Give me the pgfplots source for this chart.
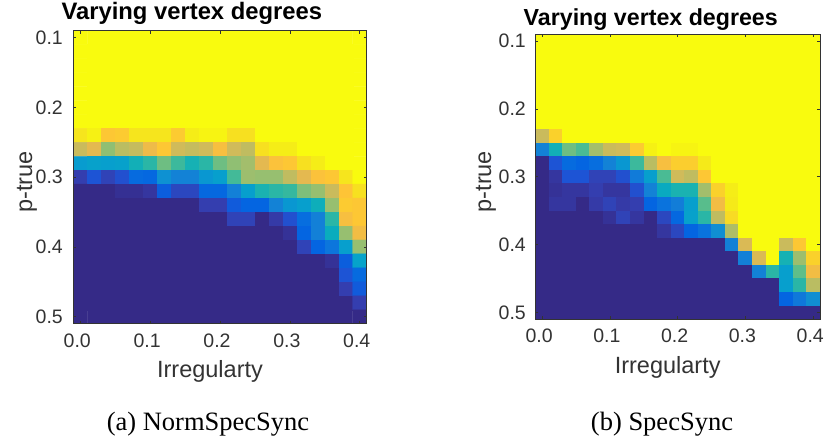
\documentclass[border=0pt]{standalone}
\usepackage{fontspec}
\setmainfont{Liberation Sans}
\newfontfamily\capfont{Liberation Serif}
\usepackage{pgfplots}
\pgfplotsset{compat=1.18}
\definecolor{axgray}{gray}{0.2}
\pgfplotsset{
 colormap={parula}{
  rgb=(0.2081,0.1663,0.5292) rgb=(0.2081,0.2386,0.6771) rgb=(0.1253,0.3242,0.8303) rgb=(0.0117,0.3875,0.8820)
  rgb=(0.0329,0.4430,0.8720) rgb=(0.0723,0.4887,0.8467) rgb=(0.0749,0.5375,0.8263) rgb=(0.0343,0.5966,0.8199)
  rgb=(0.0231,0.6418,0.7913) rgb=(0.0384,0.6743,0.7436) rgb=(0.1133,0.7015,0.6859) rgb=(0.2178,0.7250,0.6193)
  rgb=(0.3482,0.7424,0.5473) rgb=(0.4871,0.7491,0.4840) rgb=(0.6099,0.7473,0.4337) rgb=(0.7184,0.7411,0.3905)
  rgb=(0.8185,0.7327,0.3498) rgb=(0.9139,0.7258,0.3063) rgb=(0.9990,0.7653,0.2164) rgb=(0.9789,0.8271,0.1633)
  rgb=(0.9598,0.9218,0.0948) rgb=(0.9763,0.9831,0.0538)},
 hm/.style={
  scale only axis, y dir=reverse,
  xmin=-0.01,xmax=0.41,ymin=0.09,ymax=0.51,
  xtick={0,0.1,0.2,0.3,0.4}, ytick={0.1,0.2,0.3,0.4,0.5},
  point meta min=0, point meta max=1,
  /pgf/number format/assume math mode=true,
  /pgf/number format/fixed,/pgf/number format/fixed zerofill,/pgf/number format/precision=1,
  tick align=inside, tick pos=both, major tick length=3pt,
  axis line style={axgray,line width=0.8pt}, tick style={axgray,line width=0.7pt},
  ticklabel style={font=\fontsize{19.5}{21}\selectfont, text=axgray},
  xticklabel style={anchor=base, xshift=-3pt, yshift=-23.5pt},
  label style={font=\fontsize{23.5}{25}\selectfont, text=axgray},
  xlabel style={at={(axis description cs:0.5,0)}, anchor=base, xshift=-10pt, yshift=-54pt},
  axis on top,
  xlabel={Irregularty}, ylabel={p-true},
  title={Varying vertex degrees},
 },
 hmdata/.style={matrix plot*, mesh/cols=21, point meta=explicit, shader=flat corner, draw=none},
}
\begin{document}
\begin{tikzpicture}
\path[use as bounding box] (0,0) rectangle (825pt,437pt);
\begin{axis}[hm, at={(73.3pt,113.3pt)}, anchor=south west, width=293.4pt, height=293pt,
  yticklabel style={xshift=-7pt},
  ylabel style={at={(axis description cs:-0.14,0.483)}, anchor=base},
  title style={font=\fontsize{23.8}{25}\selectfont\bfseries, at={(axis description cs:0.404,1)}, anchor=base, yshift=5.7pt}]
\addplot[hmdata] table[row sep=crcr, header=false, x expr={0.02*mod(\coordindex,21)}, y expr={0.1+0.02*floor((\coordindex+0.5)/21)}, meta index=0] {
1\\1\\1\\1\\1\\1\\1\\1\\1\\1\\1\\1\\1\\1\\1\\1\\1\\1\\1\\1\\1\\
1\\1\\1\\1\\1\\1\\1\\1\\1\\1\\1\\1\\1\\1\\1\\1\\1\\1\\1\\1\\1\\
1\\1\\1\\1\\1\\1\\1\\1\\1\\1\\1\\1\\1\\1\\1\\1\\1\\1\\1\\1\\1\\
1\\1\\1\\1\\1\\1\\1\\1\\1\\1\\1\\1\\1\\1\\1\\1\\1\\1\\1\\1\\1\\
1\\1\\1\\1\\1\\1\\1\\1\\1\\1\\1\\1\\1\\1\\1\\1\\1\\1\\1\\1\\1\\
1\\1\\1\\1\\1\\1\\1\\1\\1\\1\\1\\1\\1\\1\\1\\1\\1\\1\\1\\1\\1\\
1\\1\\1\\1\\1\\1\\1\\1\\1\\1\\1\\1\\1\\1\\1\\1\\1\\1\\1\\1\\1\\
.94\\.97\\.87\\.88\\.94\\.94\\.94\\.88\\.96\\.98\\.98\\.93\\.93\\1\\1\\1\\1\\1\\1\\1\\1\\
.75\\.8\\.65\\.72\\.74\\.82\\.87\\.76\\.74\\.76\\.84\\.76\\.73\\.93\\.96\\.96\\1\\1\\1\\1\\1\\
.35\\.37\\.36\\.37\\.45\\.5\\.6\\.53\\.46\\.5\\.6\\.65\\.68\\.8\\.85\\.87\\.93\\.96\\1\\1\\1\\
.05\\.1\\.06\\.09\\.17\\.16\\.31\\.26\\.26\\.33\\.36\\.54\\.67\\.66\\.66\\.73\\.8\\.85\\.87\\.94\\1\\
0\\0\\0\\.015\\.015\\.03\\.13\\.07\\.07\\.16\\.16\\.25\\.36\\.47\\.5\\.52\\.62\\.66\\.75\\.86\\.93\\
0\\0\\0\\0\\0\\0\\0\\0\\0\\.05\\.05\\.12\\.15\\.15\\.26\\.33\\.36\\.44\\.66\\.88\\.87\\
0\\0\\0\\0\\0\\0\\0\\0\\0\\0\\0\\.06\\.06\\0\\.04\\.09\\.18\\.25\\.5\\.84\\.87\\
0\\0\\0\\0\\0\\0\\0\\0\\0\\0\\0\\0\\0\\0\\0\\.02\\.15\\.25\\.43\\.66\\.83\\
0\\0\\0\\0\\0\\0\\0\\0\\0\\0\\0\\0\\0\\0\\0\\0\\.06\\.15\\.21\\.36\\.66\\
0\\0\\0\\0\\0\\0\\0\\0\\0\\0\\0\\0\\0\\0\\0\\0\\0\\0\\.02\\.13\\.38\\
0\\0\\0\\0\\0\\0\\0\\0\\0\\0\\0\\0\\0\\0\\0\\0\\0\\0\\0\\.1\\.17\\
0\\0\\0\\0\\0\\0\\0\\0\\0\\0\\0\\0\\0\\0\\0\\0\\0\\0\\0\\.05\\.12\\
0\\0\\0\\0\\0\\0\\0\\0\\0\\0\\0\\0\\0\\0\\0\\0\\0\\0\\0\\0\\.05\\
0\\0\\0\\0\\0\\0\\0\\0\\0\\0\\0\\0\\0\\0\\0\\0\\0\\0\\0\\0\\0\\
};
\end{axis}
\begin{axis}[hm, at={(535.3pt,117.7pt)}, anchor=south west, width=284.7pt, height=285pt,
  yticklabel style={xshift=-6pt},
  ylabel style={at={(axis description cs:-0.155,0.483)}, anchor=base},
  title style={font=\fontsize{23.2}{25}\selectfont\bfseries, at={(axis description cs:0.4056,1)}, anchor=base, yshift=2.7pt}]
\addplot[hmdata] table[row sep=crcr, header=false, x expr={0.02*mod(\coordindex,21)}, y expr={0.1+0.02*floor((\coordindex+0.5)/21)}, meta index=0] {
1\\1\\1\\1\\1\\1\\1\\1\\1\\1\\1\\1\\1\\1\\1\\1\\1\\1\\1\\1\\1\\
1\\1\\1\\1\\1\\1\\1\\1\\1\\1\\1\\1\\1\\1\\1\\1\\1\\1\\1\\1\\1\\
1\\1\\1\\1\\1\\1\\1\\1\\1\\1\\1\\1\\1\\1\\1\\1\\1\\1\\1\\1\\1\\
1\\1\\1\\1\\1\\1\\1\\1\\1\\1\\1\\1\\1\\1\\1\\1\\1\\1\\1\\1\\1\\
1\\1\\1\\1\\1\\1\\1\\1\\1\\1\\1\\1\\1\\1\\1\\1\\1\\1\\1\\1\\1\\
1\\1\\1\\1\\1\\1\\1\\1\\1\\1\\1\\1\\1\\1\\1\\1\\1\\1\\1\\1\\1\\
1\\1\\1\\1\\1\\1\\1\\1\\1\\1\\1\\1\\1\\1\\1\\1\\1\\1\\1\\1\\1\\
.75\\.9\\1\\1\\1\\1\\1\\1\\1\\1\\1\\1\\1\\1\\1\\1\\1\\1\\1\\1\\1\\
.26\\.45\\.6\\.55\\.68\\.75\\.76\\.88\\.97\\1\\.98\\.98\\1\\1\\1\\1\\1\\1\\1\\1\\1\\
0\\.1\\.17\\.15\\.18\\.26\\.33\\.53\\.72\\.84\\.89\\.89\\.95\\1\\1\\1\\1\\1\\1\\1\\1\\
0\\.03\\.1\\.1\\.06\\.06\\.09\\.23\\.36\\.55\\.76\\.73\\.87\\1\\1\\1\\1\\1\\1\\1\\1\\
0\\.02\\.03\\.03\\.05\\.03\\.03\\.09\\.26\\.42\\.47\\.47\\.68\\.9\\.96\\1\\1\\1\\1\\1\\1\\
0\\.03\\.03\\0\\.04\\.06\\.04\\.05\\.15\\.2\\.24\\.36\\.57\\.83\\.95\\1\\1\\1\\1\\1\\1\\
0\\0\\0\\0\\0\\.02\\.06\\.03\\0\\.07\\.16\\.37\\.5\\.73\\.92\\1\\1\\1\\1\\1\\1\\
0\\0\\0\\0\\0\\0\\0\\0\\0\\.03\\.07\\.15\\.2\\.3\\.7\\1\\1\\1\\1\\1\\1\\
0\\0\\0\\0\\0\\0\\0\\0\\0\\0\\0\\0\\0\\0\\.25\\.78\\1\\1\\.75\\.87\\1\\
0\\0\\0\\0\\0\\0\\0\\0\\0\\0\\0\\0\\0\\0\\0\\.25\\.78\\1\\.46\\.67\\.9\\
0\\0\\0\\0\\0\\0\\0\\0\\0\\0\\0\\0\\0\\0\\0\\0\\.26\\.5\\.36\\.58\\.83\\
0\\0\\0\\0\\0\\0\\0\\0\\0\\0\\0\\0\\0\\0\\0\\0\\0\\0\\.36\\.5\\.72\\
0\\0\\0\\0\\0\\0\\0\\0\\0\\0\\0\\0\\0\\0\\0\\0\\0\\0\\.15\\.22\\.3\\
0\\0\\0\\0\\0\\0\\0\\0\\0\\0\\0\\0\\0\\0\\0\\0\\0\\0\\0\\0\\0\\
};
\end{axis}
\node[font=\capfont\fontsize{26.5}{29}\selectfont, anchor=base] at (208pt,7pt) {(a) NormSpecSync};
\node[font=\capfont\fontsize{26.5}{29}\selectfont, anchor=base] at (662pt,7pt) {(b) SpecSync};
\end{tikzpicture}
\end{document}
